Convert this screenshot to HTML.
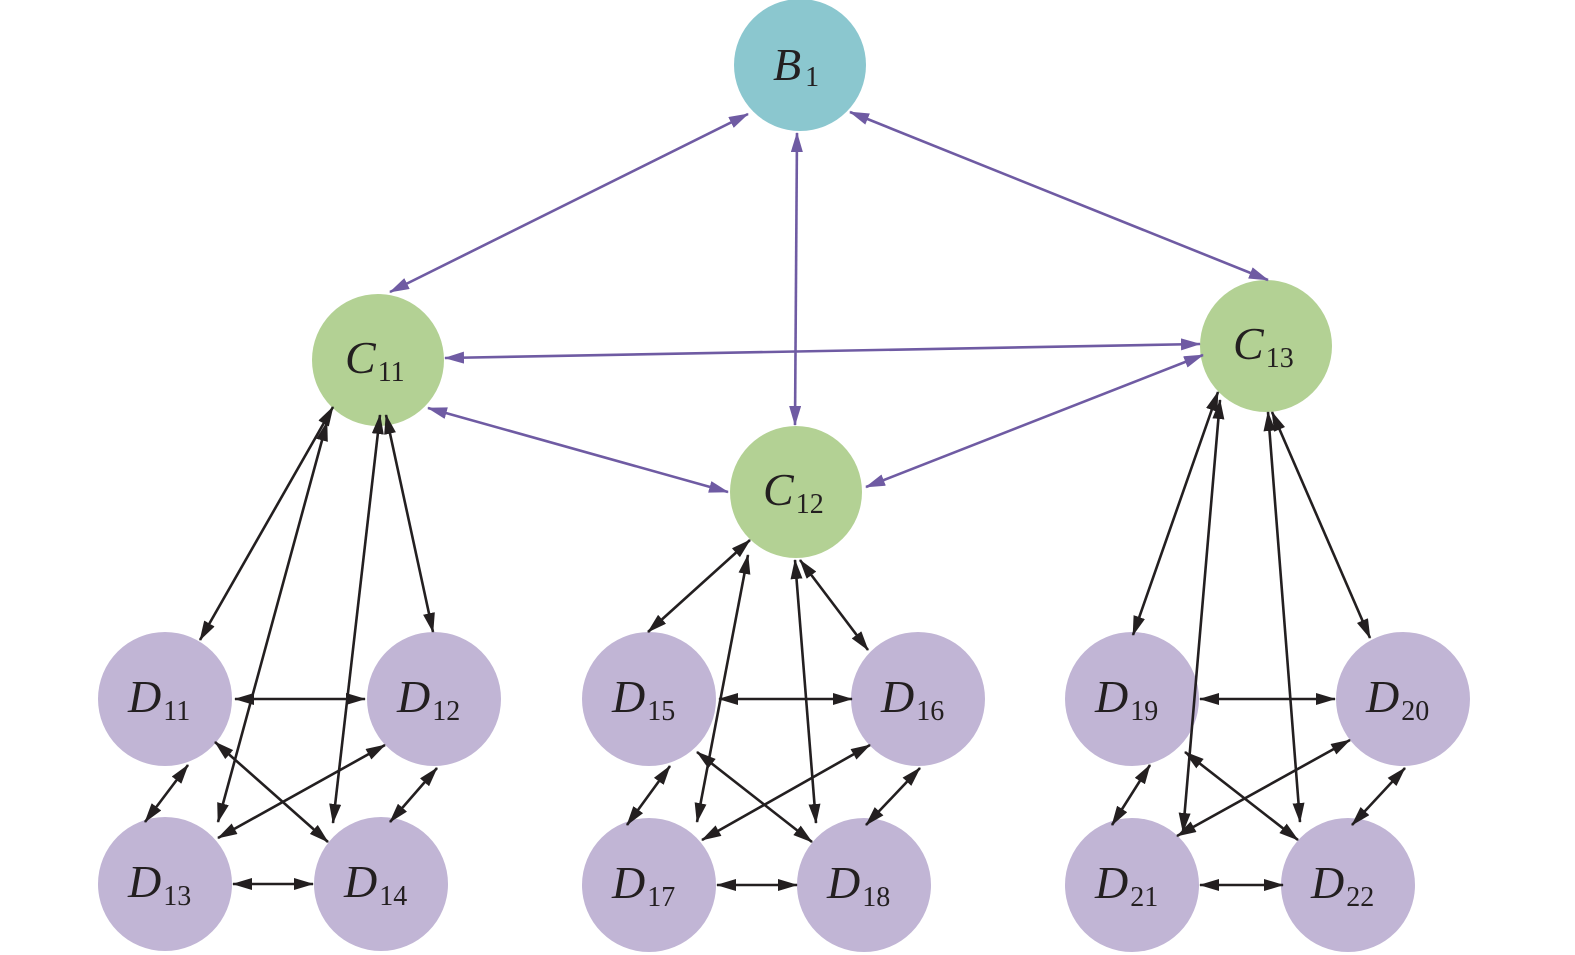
<!DOCTYPE html>
<html><head><meta charset="utf-8"><style>
html,body{margin:0;padding:0;background:#fff;}
svg{display:block}
text{font-family:"Liberation Serif",serif;fill:#231f20}
.m{font-style:italic;font-size:46px}
.s{font-size:28px}
.k{stroke:#231f20;stroke-width:2.6;fill:none;marker-start:url(#ak);marker-end:url(#ak)}
.p{stroke:#6f5ba3;stroke-width:2.6;fill:none;marker-start:url(#ap);marker-end:url(#ap)}
</style></head><body>
<svg width="1575" height="955" viewBox="0 0 1575 955" xmlns="http://www.w3.org/2000/svg">
<defs>
<marker id="ak" viewBox="0 0 20 12" refX="19" refY="6" markerWidth="20" markerHeight="12" markerUnits="userSpaceOnUse" orient="auto-start-reverse"><path d="M0,0 L20,6 L0,12 Z" fill="#231f20"/></marker>
<marker id="ap" viewBox="0 0 20 12" refX="19" refY="6" markerWidth="20" markerHeight="12" markerUnits="userSpaceOnUse" orient="auto-start-reverse"><path d="M0,0 L20,6 L0,12 Z" fill="#6f5ba3"/></marker>
</defs>
<g fill="#c1b5d5">
<circle cx="165" cy="699" r="67"/><circle cx="434" cy="699" r="67"/><circle cx="165" cy="884" r="67"/><circle cx="381" cy="884" r="67"/>
<circle cx="649" cy="699" r="67"/><circle cx="918" cy="699" r="67"/><circle cx="649" cy="885" r="67"/><circle cx="864" cy="885" r="67"/>
<circle cx="1132" cy="699" r="67"/><circle cx="1403" cy="699" r="67"/><circle cx="1132" cy="885" r="67"/><circle cx="1348" cy="885" r="67"/>
</g>
<g fill="#b3d194">
<circle cx="378" cy="360" r="66"/><circle cx="796" cy="492" r="66"/><circle cx="1266" cy="346" r="66"/>
</g>
<circle cx="800" cy="65" r="66" fill="#8bc7cf"/>
<line class="p" x1="748" y1="114" x2="390" y2="292"/>
<line class="p" x1="797" y1="133" x2="795" y2="425"/>
<line class="p" x1="850" y1="112" x2="1268" y2="280"/>
<line class="p" x1="445" y1="358" x2="1200" y2="344"/>
<line class="p" x1="428" y1="408" x2="728" y2="492"/>
<line class="p" x1="866" y1="487" x2="1203" y2="355"/>
<line class="k" x1="333" y1="407" x2="200" y2="640"/>
<line class="k" x1="327" y1="422" x2="218" y2="822"/>
<line class="k" x1="380" y1="415" x2="333" y2="823"/>
<line class="k" x1="386" y1="415" x2="433" y2="632"/>
<line class="k" x1="235" y1="699" x2="365" y2="699"/>
<line class="k" x1="188" y1="765" x2="145" y2="822"/>
<line class="k" x1="215" y1="742" x2="328" y2="842"/>
<line class="k" x1="385" y1="745" x2="218" y2="838"/>
<line class="k" x1="437" y1="768" x2="390" y2="822"/>
<line class="k" x1="233" y1="884" x2="313" y2="884"/>
<line class="k" x1="750" y1="540" x2="648" y2="632"/>
<line class="k" x1="748" y1="555" x2="697" y2="822"/>
<line class="k" x1="795" y1="560" x2="816" y2="823"/>
<line class="k" x1="800" y1="560" x2="868" y2="650"/>
<line class="k" x1="719" y1="699" x2="852" y2="699"/>
<line class="k" x1="670" y1="766" x2="627" y2="825"/>
<line class="k" x1="697" y1="752" x2="812" y2="842"/>
<line class="k" x1="870" y1="745" x2="702" y2="840"/>
<line class="k" x1="920" y1="768" x2="866" y2="825"/>
<line class="k" x1="717" y1="885" x2="797" y2="885"/>
<line class="k" x1="1218" y1="392" x2="1133" y2="635"/>
<line class="k" x1="1220" y1="400" x2="1183" y2="832"/>
<line class="k" x1="1268" y1="412" x2="1300" y2="822"/>
<line class="k" x1="1272" y1="412" x2="1370" y2="638"/>
<line class="k" x1="1200" y1="699" x2="1335" y2="699"/>
<line class="k" x1="1150" y1="765" x2="1112" y2="825"/>
<line class="k" x1="1185" y1="752" x2="1298" y2="840"/>
<line class="k" x1="1350" y1="740" x2="1177" y2="836"/>
<line class="k" x1="1405" y1="768" x2="1352" y2="825"/>
<line class="k" x1="1200" y1="885" x2="1283" y2="885"/>
<text x="773" y="80"><tspan class="m">B</tspan><tspan class="s" dx="4" dy="6">1</tspan></text>
<text x="345" y="373"><tspan class="m">C</tspan><tspan class="s" dx="2" dy="8">11</tspan></text>
<text x="763" y="505"><tspan class="m">C</tspan><tspan class="s" dx="2" dy="8">12</tspan></text>
<text x="1233" y="359"><tspan class="m">C</tspan><tspan class="s" dx="2" dy="8">13</tspan></text>
<g>
<text x="128" y="712"><tspan class="m">D</tspan><tspan class="s" dx="2" dy="8">11</tspan></text>
<text x="397" y="712"><tspan class="m">D</tspan><tspan class="s" dx="2" dy="8">12</tspan></text>
<text x="128" y="897"><tspan class="m">D</tspan><tspan class="s" dx="2" dy="8">13</tspan></text>
<text x="344" y="897"><tspan class="m">D</tspan><tspan class="s" dx="2" dy="8">14</tspan></text>
<text x="612" y="712"><tspan class="m">D</tspan><tspan class="s" dx="2" dy="8">15</tspan></text>
<text x="881" y="712"><tspan class="m">D</tspan><tspan class="s" dx="2" dy="8">16</tspan></text>
<text x="612" y="898"><tspan class="m">D</tspan><tspan class="s" dx="2" dy="8">17</tspan></text>
<text x="827" y="898"><tspan class="m">D</tspan><tspan class="s" dx="2" dy="8">18</tspan></text>
<text x="1095" y="712"><tspan class="m">D</tspan><tspan class="s" dx="2" dy="8">19</tspan></text>
<text x="1366" y="712"><tspan class="m">D</tspan><tspan class="s" dx="2" dy="8">20</tspan></text>
<text x="1095" y="898"><tspan class="m">D</tspan><tspan class="s" dx="2" dy="8">21</tspan></text>
<text x="1311" y="898"><tspan class="m">D</tspan><tspan class="s" dx="2" dy="8">22</tspan></text>
</g>
</svg>
</body></html>
